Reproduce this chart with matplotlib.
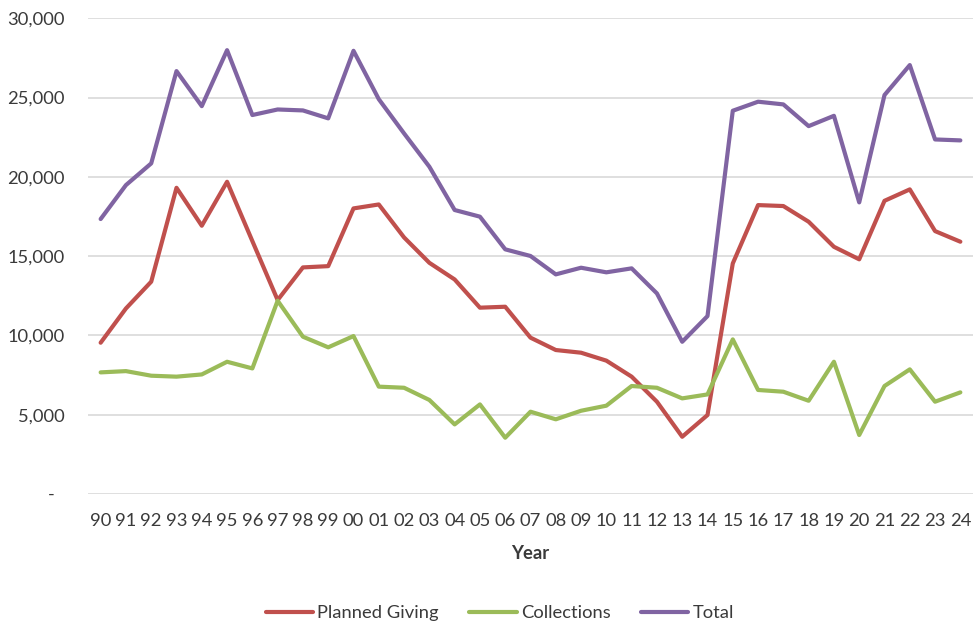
import matplotlib
matplotlib.use("Agg")
import matplotlib.pyplot as plt
from matplotlib.ticker import FixedLocator, FuncFormatter

years = ["90","91","92","93","94","95","96","97","98","99","00","01","02","03","04","05","06",
         "07","08","09","10","11","12","13","14","15","16","17","18","19","20","21","22","23","24"]
planned_giving = [9540, 11700, 13390, 19310, 16920, 19690, 15950, 12230, 14290, 14370, 18010, 18260,
                  16180, 14580, 13530, 11750, 11810, 9860, 9080, 8910, 8410, 7400, 5820, 3610, 4980,
                  14540, 18220, 18160, 17170, 15590, 14800, 18490, 19210, 16580, 15910]
collections = [7670, 7750, 7460, 7400, 7540, 8340, 7920, 12190, 9920, 9250, 9960, 6770,
               6700, 5930, 4390, 5650, 3550, 5190, 4710, 5250, 5570, 6810, 6700, 6030, 6280,
               9750, 6560, 6450, 5880, 8340, 3720, 6810, 7860, 5820, 6410]
total = [17340, 19480, 20850, 26670, 24460, 27990, 23900, 24250, 24190, 23690, 27950, 24900,
         22740, 20640, 17910, 17490, 15430, 15010, 13850, 14270, 13980, 14230, 12650, 9600, 11220,
         24170, 24740, 24570, 23200, 23850, 18390, 25160, 27050, 22360, 22300]
yticks = [0, 5000, 10000, 15000, 20000, 25000, 30000]

plt.rcParams['font.family'] = ['Lato', 'DejaVu Sans']
txt = '#3A3A3A'
fs = 13.2
fig = plt.figure(figsize=(9.76, 6.26), dpi=100)
ax = fig.add_axes([88/976, 1-494/626, (973-88)/976, (494-18.3)/626])

x = list(range(len(years)))
ax.plot(x, planned_giving, color='#C0504D', lw=3, label='Planned Giving', solid_capstyle='round', solid_joinstyle='round')
ax.plot(x, collections, color='#9BBB59', lw=3, label='Collections', solid_capstyle='round', solid_joinstyle='round')
ax.plot(x, total, color='#8064A2', lw=3, label='Total', solid_capstyle='round', solid_joinstyle='round')

ax.set_xlim(-0.5, len(years)-0.5)
ax.set_ylim(0, 30000)
ax.yaxis.set_major_locator(FixedLocator(yticks))
ax.yaxis.set_major_formatter(FuncFormatter(lambda v, p: '-  ' if v == 0 else f'{int(v):,}'))
ax.set_xticks(x)
ax.set_xticklabels(years)
ax.grid(axis='y', color='#D9D9D9', lw=1.2)
ax.set_axisbelow(True)
for s in ax.spines.values():
    s.set_visible(False)
ax.tick_params(axis='both', length=0, labelsize=fs, labelcolor=txt)
ax.tick_params(axis='y', pad=17)
ax.tick_params(axis='x', pad=14)
ax.set_xlabel('Year', fontsize=fs, fontweight='bold', color=txt, labelpad=11)

leg = fig.legend(loc='center', bbox_to_anchor=(0.512, 1-613/626), ncol=3, frameon=False,
                 fontsize=fs, handlelength=2.6, columnspacing=1.65, handletextpad=0.22)
for t in leg.get_texts():
    t.set_color(txt)

fig.savefig('out.png', dpi=100)
